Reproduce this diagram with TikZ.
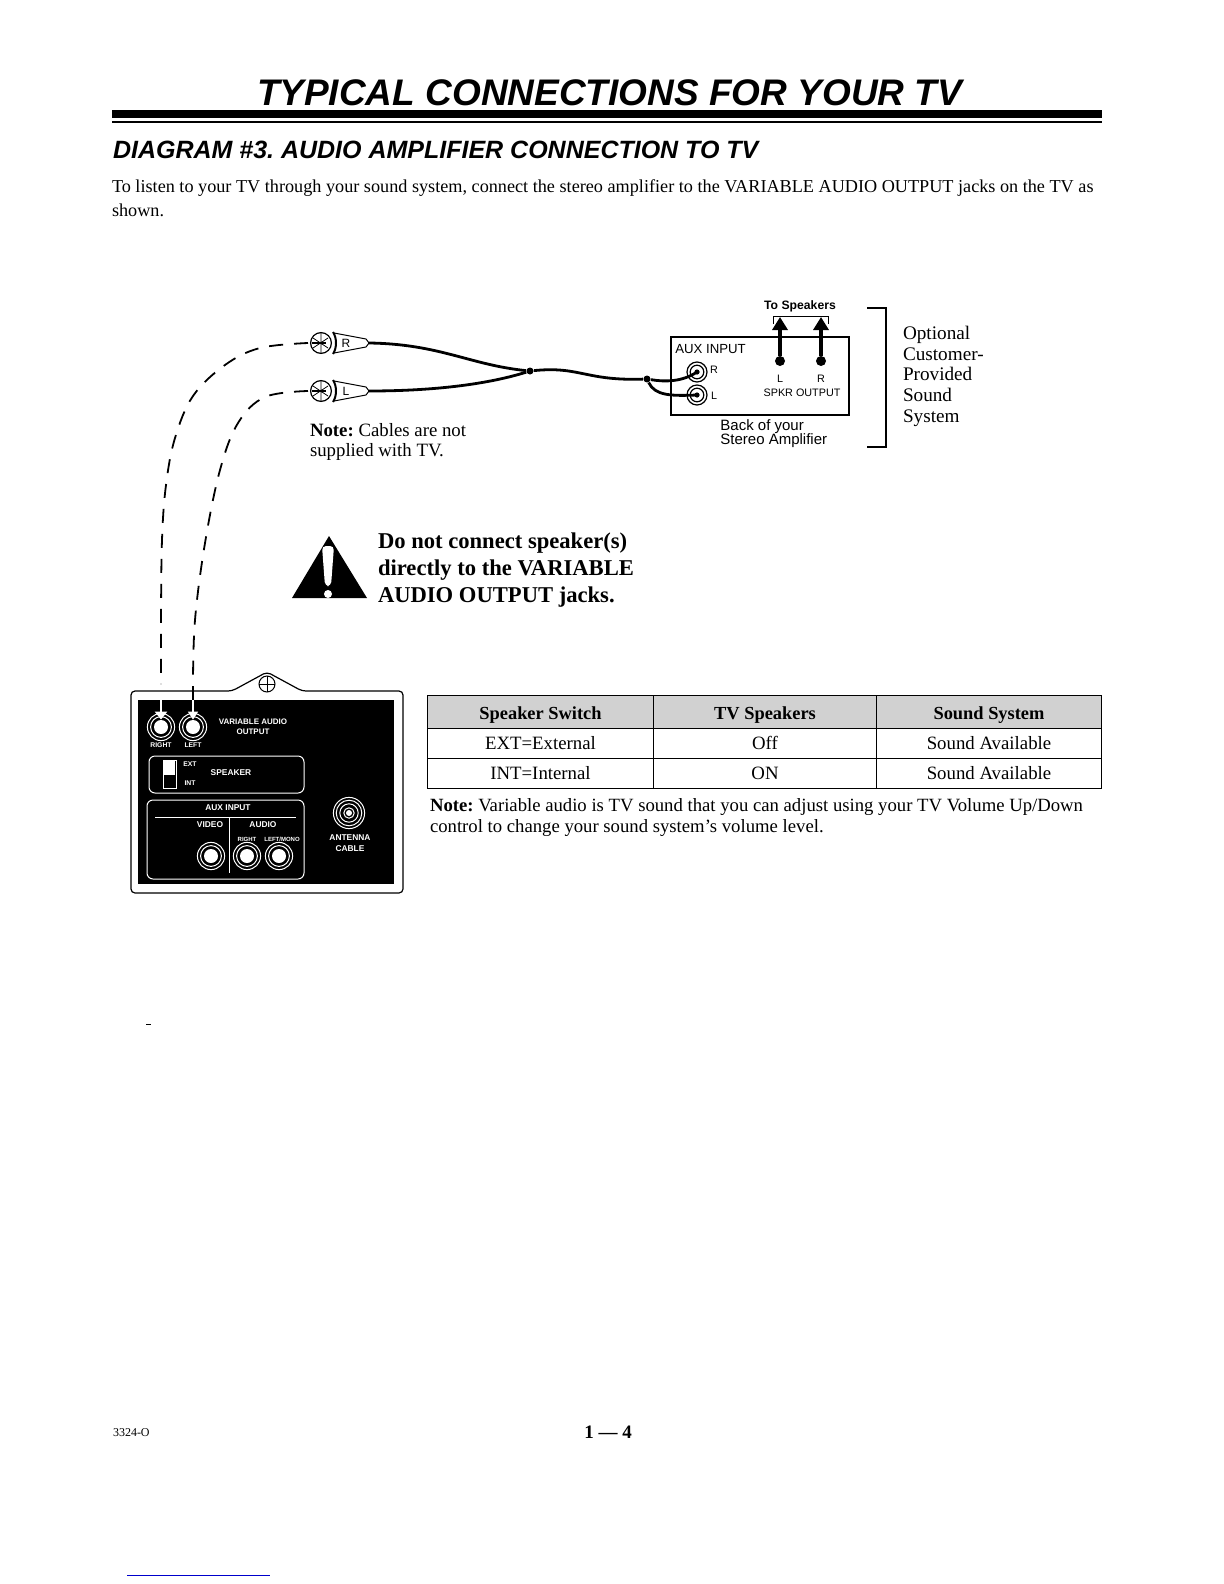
\documentclass[tikz,border=0pt]{standalone}
\usepackage{fontspec}
\setmainfont{Liberation Serif}
\setsansfont{Liberation Sans}
\usepackage{xcolor}
\usepackage{tikz}
\usetikzlibrary{arrows.meta,positioning,calc}
\frenchspacing

\begin{document}
\begin{tikzpicture}[
    x=0.5pt, y=-0.5pt,
    txt/.style={inner sep=0pt, outer sep=0pt, align=left, anchor=west},
    lbl/.style={inner sep=0pt, font=\sffamily\fontsize{5.4}{7}\selectfont, align=center},
    tvlbl/.style={inner sep=0pt, text=white, font=\sffamily\bfseries\fontsize{3.4}{5}\selectfont, align=center},
    tvbig/.style={tvlbl, font=\sffamily\bfseries\fontsize{4.2}{5.2}\selectfont},
    cell/.style={draw, line width=0.5pt, inner sep=0pt, outer sep=0pt, minimum height=15pt, font=\fontsize{9.4}{11}\selectfont},
    headcell/.style={cell, fill=black!18, minimum height=16.5pt, text height=10pt, text depth=2pt, font=\bfseries\fontsize{9.2}{11}\selectfont},
    tvline/.style={draw=white, line width=0.5pt, rounded corners=3pt},
    cable/.style={line width=1.4pt},
    dashcable/.style={line width=0.9pt, dash pattern=on 7pt off 5.5pt},
    amparrow/.style={-{Triangle[length=6.5pt,width=7.5pt]}, line width=2pt}
]
\useasboundingbox (0,0) rectangle (1224,1584);

% Heading
\node[txt, font=\sffamily\bfseries\itshape\fontsize{18.5}{20}\selectfont] (title) at (257,93) {TYPICAL CONNECTIONS FOR YOUR TV};
\fill (112,110) rectangle (1102,118);
\fill (112,121) rectangle (1102,123);
\node[txt, font=\sffamily\bfseries\itshape\fontsize{12.5}{14}\selectfont] (heading) at (113,150) {DIAGRAM \#3. AUDIO AMPLIFIER CONNECTION TO TV};
\node[txt, anchor=north west, font=\fontsize{9.1}{12}\selectfont] (intro) at (112,180) {To listen to your TV through your sound system, connect the stereo amplifier to the VARIABLE AUDIO OUTPUT jacks on the TV as\\shown.};

% Amplifier
\node[draw, line width=0.7pt, inner sep=0pt, minimum width=89pt, minimum height=39pt] (amp) at (760,376) {};
\node[lbl, anchor=west, font=\sffamily\fontsize{6.6}{8}\selectfont] (auxinput) at (675,349) {AUX INPUT};
\foreach \nm/\yy in {jackr/372, jackl/395} {
    \node[circle, draw, line width=0.6pt, fill=white, minimum size=10pt, inner sep=0pt] (\nm) at (697,\yy) {};
    \draw[line width=0.6pt] (\nm) circle (3.4pt);
    \fill (\nm) circle (1.3pt);
}
\node[lbl] (rin) at (714,370) {R};
\node[lbl] (lin) at (714,396) {L};
\node[circle, fill, minimum size=5pt, inner sep=0pt] (spkl) at (780,361) {};
\node[circle, fill, minimum size=5pt, inner sep=0pt] (spkr) at (821,361) {};
\node[lbl] (ltxt) at (780,379) {L};
\node[lbl] (rtxt) at (821,379) {R};
\node[lbl] (spkrout) at (802,393) {SPKR OUTPUT};
\node[lbl, font=\sffamily\fontsize{7.5}{7.2}\selectfont, anchor=north west, align=left] (back) at (720,419) {Back of your\\Stereo Amplifier};
\node[lbl, font=\sffamily\bfseries\fontsize{6.1}{7}\selectfont] (tospk) at (800,306) {To Speakers};
\coordinate (brl) at (780,317);
\coordinate (brr) at (821,317);
\draw[line width=0.5pt] (773,324) -- (773,316) -- (828,316) -- (828,324);
\draw[amparrow] (spkl) -- (brl);
\draw[amparrow] (spkr) -- (brr);

% Bracket
\draw[line width=1pt] (867,308) -- (886,308) -- (886,447) -- (867,447);
\node[txt, anchor=north west, font=\fontsize{9.6}{10.4}\selectfont] (optional) at (903,326) {Optional\\Customer-\\Provided\\Sound\\System};

% Plugs
\foreach \nm/\yy/\lt in {plugr/343/R, plugl/391/L} {
    \fill[white] (334,\yy-8) -- (366,\yy-3) -- (366,\yy+3) -- (334,\yy+8) -- cycle;
    \draw[line width=0.5pt] (334,\yy-10) -- (366,\yy-4) -- (369,\yy) -- (366,\yy+4) -- (334,\yy+10);
    \draw[line width=1pt] (333,\yy-11) .. controls (337,\yy-5) and (337,\yy+5) .. (333,\yy+11);
    \draw[line width=0.6pt] (321,\yy) circle (5.2pt);
    \draw[line width=0.4pt] (321,\yy-10) -- (321,\yy+10) (313,\yy-5) -- (328,\yy+5) (313,\yy+5) -- (328,\yy-5);
    \draw[line width=0.8pt] (312,\yy) -- (326,\yy);
    \node[inner sep=0pt, font=\sffamily\fontsize{6}{6}\selectfont] (\nm) at (346,\yy) {\lt};
    \coordinate (\nm tail) at (369,\yy);
    \coordinate (\nm tip) at (308,\yy);
}

% Cables
\node[circle, fill, minimum size=3.5pt, inner sep=0pt] (junction) at (530,371) {};
\node[circle, fill, minimum size=3.5pt, inner sep=0pt] (split) at (647,379) {};
\draw[cable] (plugrtail) .. controls (440,344) and (470,365) .. (junction);
\draw[cable] (plugltail) .. controls (430,391) and (485,385) .. (junction);
\draw[cable] (junction) .. controls (580,366) and (585,381) .. (split);
\draw[cable] (split) .. controls (665,382) and (682,382) .. (jackr.center);
\draw[cable] (split) .. controls (655,396) and (672,396) .. (jackl.center);

% TV panel
\draw[line width=0.6pt, fill=white, rounded corners=2pt] (131,691) -- (232,691) -- (267,672) -- (302,691) -- (403,691) -- (403,893) -- (131,893) -- cycle;
\node[draw=none, fill=black, minimum width=128pt, minimum height=92pt, inner sep=0pt] (tvpanel) at (266,792) {};
\node[circle, draw, line width=0.5pt, minimum size=8pt, inner sep=0pt] (screw) at (267,684) {};
\draw[line width=0.4pt] (259,684) -- (275,684) (267,676) -- (267,692);
\foreach \nm/\xx/\yy in {tvr/161/727, tvl/193/727, tvvideo/211/856, tvaudr/247/856, tvaudl/279/856} {
    \node[circle, fill=white, minimum size=7pt, inner sep=0pt] (\nm) at (\xx,\yy) {};
    \draw[white, line width=0.5pt] (\nm) circle (5.2pt);
    \draw[white, line width=0.5pt] (\nm) circle (6.8pt);
}
\node[circle, fill=white, minimum size=3pt, inner sep=0pt] (antenna) at (349,813) {};
\foreach \rr in {2.6,4.6,6.4,7.8} {
    \draw[white, line width=0.5pt] (antenna) circle (\rr pt);
}
\node[tvbig, font=\sffamily\bfseries\fontsize{4}{5.2}\selectfont] (varaudio) at (253,727) {VARIABLE AUDIO\\OUTPUT};
\node[tvlbl] (rlbl) at (161,745) {RIGHT};
\node[tvlbl] (llbl) at (193,745) {LEFT};
\draw[tvline] (149,756) rectangle (304,793);
\node[draw=white, line width=0.5pt, fill=black, minimum width=6.5pt, minimum height=14pt, inner sep=0pt] (switch) at (169.5,774) {};
\fill[white] (164,761) rectangle (175,775);
\node[tvlbl] (extlbl) at (190,764) {EXT};
\node[tvlbl] (intlbl) at (190,783) {INT};
\node[tvbig] (speaker) at (231,773) {SPEAKER};
\draw[tvline] (147,800) rectangle (304,879);
\node[tvbig] (auxlbl) at (228,808) {AUX INPUT};
\draw[white, line width=0.5pt] (155,817) -- (296,817);
\draw[white, line width=0.5pt] (229,817) -- (229,873);
\node[tvbig] (videolbl) at (210,825) {VIDEO};
\node[tvbig] (audiolbl) at (263,825) {AUDIO};
\node[tvlbl, font=\sffamily\bfseries\fontsize{3}{5}\selectfont] (rightlbl) at (247,839) {RIGHT};
\node[tvlbl, font=\sffamily\bfseries\fontsize{3}{5}\selectfont] (monolbl) at (282,839) {LEFT/MONO};
\node[tvbig] (antlbl) at (350,843) {ANTENNA\\CABLE};

% Dashed runs to the TV jacks
\coordinate (dashr) at (161,684);
\coordinate (dashl) at (193,684);
\draw[dashcable] plot[smooth, tension=0.6] coordinates {(plugrtip) (260,348) (225,365) (193,396) (175,438) (166,485) (162,540) (161,620) (dashr)};
\draw[dashcable] plot[smooth, tension=0.6] coordinates {(plugltip) (265,397) (238,423) (220,470) (205,543) (195,620) (dashl)};
\draw[white, line width=1.4pt, -{Triangle[length=4pt,width=6pt]}] (161,700) -- (tvr.north);
\draw[white, line width=0.8pt, -{Triangle[length=4pt,width=5pt]}] (193,700) -- (tvl.north);
\draw[line width=0.7pt] (193,686) -- (193,700);

% Notes and warning
\node[txt, anchor=north west, font=\fontsize{9.4}{10.4}\selectfont] (cablenote) at (310,423) {\textbf{Note:} Cables are not\\supplied with TV.};
\fill (329,536) -- (367,598) -- (292,598) -- cycle;
\fill[white, rounded corners=2pt] (322,546) -- (334,546) -- (331,586) -- (325,586) -- cycle;
\fill[white] (328,594) circle (2pt);
\node[txt, anchor=north west, font=\bfseries\fontsize{11.3}{13.5}\selectfont] (warntxt) at (378,533) {Do not connect speaker(s)\\directly to the VARIABLE\\AUDIO OUTPUT jacks.};

% Table
\node[headcell, minimum width=113pt] (h1) at (540.5,711.5) {Speaker Switch};
\node[headcell, minimum width=111.5pt, right=0pt of h1] (h2) {TV Speakers};
\node[headcell, minimum width=112.5pt, right=0pt of h2] (h3) {Sound System};
\node[cell, minimum width=113pt, below=0pt of h1] (a1) {EXT=External};
\node[cell, minimum width=111.5pt, below=0pt of h2] (a2) {Off};
\node[cell, minimum width=112.5pt, below=0pt of h3] (a3) {Sound Available};
\node[cell, minimum width=113pt, below=0pt of a1] (b1) {INT=Internal};
\node[cell, minimum width=111.5pt, below=0pt of a2] (b2) {ON};
\node[cell, minimum width=112.5pt, below=0pt of a3] (b3) {Sound Available};
\node[txt, anchor=north west, font=\fontsize{9.35}{10.4}\selectfont] (tablenote) at (430,799) {\textbf{Note:} Variable audio is TV sound that you can adjust using your TV Volume Up/Down\\control to change your sound system's volume level.};

% Footer
\node[txt, font=\fontsize{6}{7}\selectfont] (partno) at (113,1433) {3324-O};
\node[inner sep=0pt, font=\bfseries\fontsize{9.5}{11}\selectfont] (pageno) at (608,1432) {1 --- 4};
\draw[blue!80!black, line width=0.5pt] (127,1575) -- (270,1575);
\draw[line width=0.5pt] (146,1024) -- (151,1024);
\end{tikzpicture}
\end{document}
